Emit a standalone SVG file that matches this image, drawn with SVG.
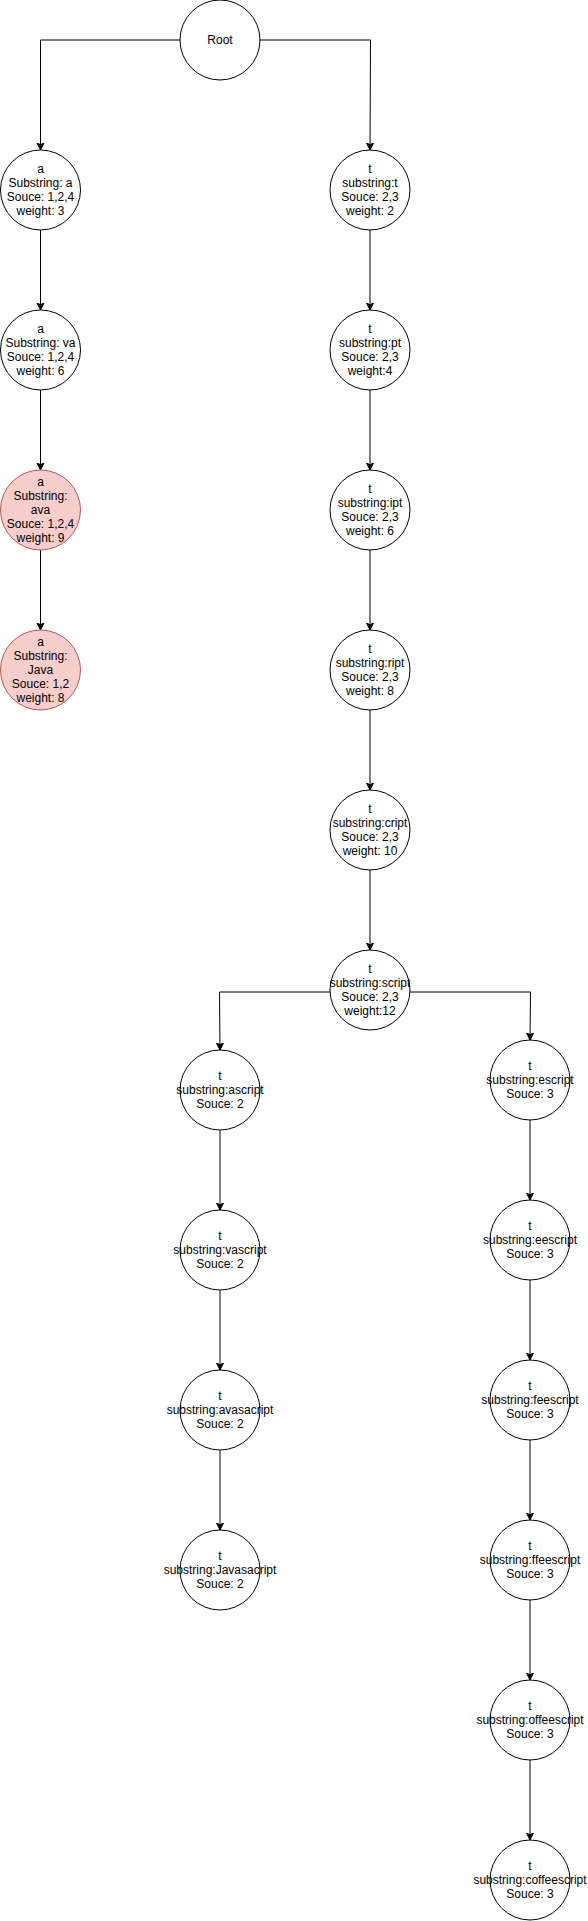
<svg xmlns="http://www.w3.org/2000/svg" width="588" height="1921" viewBox="0 0 588 1921">
<style>
.n{fill:#ffffff;stroke:#000000;stroke-width:1}
.r{fill:#f8cecc;stroke:#b85450;stroke-width:1}
.t{font-family:"Liberation Sans",Arial,Helvetica,sans-serif;font-size:12px;fill:#000000;text-anchor:middle}
.e{fill:none;stroke:#000000;stroke-width:1}
</style>
<defs>
<marker id="arr" markerUnits="userSpaceOnUse" markerWidth="9" markerHeight="9" refX="7" refY="4" orient="auto">
<path d="M7,4 L0,0.5 L1.75,4 L0,7.5 Z" fill="#000000" stroke="#000000" stroke-width="1"/>
</marker>
</defs>
<rect x="0" y="0" width="588" height="1921" fill="#ffffff"/>
<g id="connectors">
<path class="e" d="M180,40 L40.5,40 L40.5,150" marker-end="url(#arr)"/>
<path class="e" d="M260,40 L370.5,40 L370,150" marker-end="url(#arr)"/>
<path class="e" d="M40.5,230 L40.5,310" marker-end="url(#arr)"/>
<path class="e" d="M40.5,390 L40.5,470" marker-end="url(#arr)"/>
<path class="e" d="M40.5,550 L40.5,630" marker-end="url(#arr)"/>
<path class="e" d="M370,230 L370,310" marker-end="url(#arr)"/>
<path class="e" d="M370,390 L370,470" marker-end="url(#arr)"/>
<path class="e" d="M370,550 L370,630" marker-end="url(#arr)"/>
<path class="e" d="M370,710 L370,790" marker-end="url(#arr)"/>
<path class="e" d="M370,870 L370,950" marker-end="url(#arr)"/>
<path class="e" d="M330,992 L219.5,992 L220,1050" marker-end="url(#arr)"/>
<path class="e" d="M410,992 L530.5,992 L530,1040" marker-end="url(#arr)"/>
<path class="e" d="M220,1130 L220,1210" marker-end="url(#arr)"/>
<path class="e" d="M220,1290 L220,1370" marker-end="url(#arr)"/>
<path class="e" d="M220,1450 L220,1530" marker-end="url(#arr)"/>
<path class="e" d="M530,1120 L530,1200" marker-end="url(#arr)"/>
<path class="e" d="M530,1280 L530,1360" marker-end="url(#arr)"/>
<path class="e" d="M530,1440 L530,1520" marker-end="url(#arr)"/>
<path class="e" d="M530,1600 L530,1680" marker-end="url(#arr)"/>
<path class="e" d="M530,1760 L530,1840" marker-end="url(#arr)"/>
</g>
<g id="root"><circle class="n" cx="220" cy="40" r="40"/><text class="t" x="220" y="44">Root</text></g>
<g id="a1"><circle class="n" cx="40.5" cy="190" r="40"/><text class="t" x="40.5" y="173">a</text><text class="t" x="40.5" y="187">Substring: a</text><text class="t" x="40.5" y="201">Souce: 1,2,4</text><text class="t" x="40.5" y="215">weight: 3</text></g>
<g id="a2"><circle class="n" cx="40.5" cy="350" r="40"/><text class="t" x="40.5" y="333">a</text><text class="t" x="40.5" y="347">Substring: va</text><text class="t" x="40.5" y="361">Souce: 1,2,4</text><text class="t" x="40.5" y="375">weight: 6</text></g>
<g id="a3"><circle class="r" cx="40.5" cy="510" r="40"/><text class="t" x="40.5" y="486">a</text><text class="t" x="40.5" y="500">Substring:</text><text class="t" x="40.5" y="514">ava</text><text class="t" x="40.5" y="528">Souce: 1,2,4</text><text class="t" x="40.5" y="542">weight: 9</text></g>
<g id="a4"><circle class="r" cx="40.5" cy="670" r="40"/><text class="t" x="40.5" y="646">a</text><text class="t" x="40.5" y="660">Substring:</text><text class="t" x="40.5" y="674">Java</text><text class="t" x="40.5" y="688">Souce: 1,2</text><text class="t" x="40.5" y="702">weight: 8</text></g>
<g id="t1"><circle class="n" cx="370" cy="190" r="40"/><text class="t" x="370" y="173">t</text><text class="t" x="370" y="187">substring:t</text><text class="t" x="370" y="201">Souce: 2,3</text><text class="t" x="370" y="215">weight: 2</text></g>
<g id="t2"><circle class="n" cx="370" cy="350" r="40"/><text class="t" x="370" y="333">t</text><text class="t" x="370" y="347">substring:pt</text><text class="t" x="370" y="361">Souce: 2,3</text><text class="t" x="370" y="375">weight:4</text></g>
<g id="t3"><circle class="n" cx="370" cy="510" r="40"/><text class="t" x="370" y="493">t</text><text class="t" x="370" y="507">substring:ipt</text><text class="t" x="370" y="521">Souce: 2,3</text><text class="t" x="370" y="535">weight: 6</text></g>
<g id="t4"><circle class="n" cx="370" cy="670" r="40"/><text class="t" x="370" y="653">t</text><text class="t" x="370" y="667">substring:ript</text><text class="t" x="370" y="681">Souce: 2,3</text><text class="t" x="370" y="695">weight: 8</text></g>
<g id="t5"><circle class="n" cx="370" cy="830" r="40"/><text class="t" x="370" y="813">t</text><text class="t" x="370" y="827">substring:cript</text><text class="t" x="370" y="841">Souce: 2,3</text><text class="t" x="370" y="855">weight: 10</text></g>
<g id="t6"><circle class="n" cx="370" cy="990" r="40"/><text class="t" x="370" y="973">t</text><text class="t" x="370" y="987">substring:script</text><text class="t" x="370" y="1001">Souce: 2,3</text><text class="t" x="370" y="1015">weight:12</text></g>
<g id="l1"><circle class="n" cx="220" cy="1090" r="40"/><text class="t" x="220" y="1080">t</text><text class="t" x="220" y="1094">substring:ascript</text><text class="t" x="220" y="1108">Souce: 2</text></g>
<g id="l2"><circle class="n" cx="220" cy="1250" r="40"/><text class="t" x="220" y="1240">t</text><text class="t" x="220" y="1254">substring:vascript</text><text class="t" x="220" y="1268">Souce: 2</text></g>
<g id="l3"><circle class="n" cx="220" cy="1410" r="40"/><text class="t" x="220" y="1400">t</text><text class="t" x="220" y="1414">substring:avasacript</text><text class="t" x="220" y="1428">Souce: 2</text></g>
<g id="l4"><circle class="n" cx="220" cy="1570" r="40"/><text class="t" x="220" y="1560">t</text><text class="t" x="220" y="1574">substring:Javasacript</text><text class="t" x="220" y="1588">Souce: 2</text></g>
<g id="r1"><circle class="n" cx="530" cy="1080" r="40"/><text class="t" x="530" y="1070">t</text><text class="t" x="530" y="1084">substring:escript</text><text class="t" x="530" y="1098">Souce: 3</text></g>
<g id="r2"><circle class="n" cx="530" cy="1240" r="40"/><text class="t" x="530" y="1230">t</text><text class="t" x="530" y="1244">substring:eescript</text><text class="t" x="530" y="1258">Souce: 3</text></g>
<g id="r3"><circle class="n" cx="530" cy="1400" r="40"/><text class="t" x="530" y="1390">t</text><text class="t" x="530" y="1404">substring:feescript</text><text class="t" x="530" y="1418">Souce: 3</text></g>
<g id="r4"><circle class="n" cx="530" cy="1560" r="40"/><text class="t" x="530" y="1550">t</text><text class="t" x="530" y="1564">substring:ffeescript</text><text class="t" x="530" y="1578">Souce: 3</text></g>
<g id="r5"><circle class="n" cx="530" cy="1720" r="40"/><text class="t" x="530" y="1710">t</text><text class="t" x="530" y="1724">substring:offeescript</text><text class="t" x="530" y="1738">Souce: 3</text></g>
<g id="r6"><circle class="n" cx="530" cy="1880" r="40"/><text class="t" x="530" y="1870">t</text><text class="t" x="530" y="1884">substring:coffeescript</text><text class="t" x="530" y="1898">Souce: 3</text></g>
</svg>
